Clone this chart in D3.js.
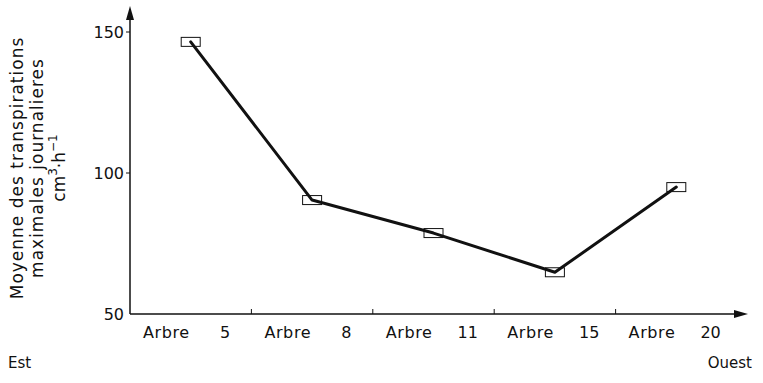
<!DOCTYPE html>
<html>
<head>
<meta charset="utf-8">
<script src="https://cdn.jsdelivr.net/npm/d3@7"></script>
<style>
  body { margin: 0; background: #fff; }
  svg text { font-family: "DejaVu Sans", sans-serif; fill: #111; }
</style>
</head>
<body>
<svg width="763" height="383"></svg>
<script>
// arbres, d'est en ouest
var trees = ['5', '8', '11', '15', '20']
var transp = [146.5, 90.4, 78.7, 64.8, 95.0]
var yTicks = [50, 100, 150]
var yTitle = ['Moyenne des transpirations', 'maximales journalieres']

var svg = d3.select('svg')

var x = d3.scaleBand().domain(trees).range([130, 737]).padding(0)
  , y = d3.scaleLinear().domain([50, 150]).range([314, 32])

var x0 = x.range()[0], y0 = y(50)

// axes
svg.append('line')
  .attr('x1', x0).attr('x2', x0).attr('y1', y0).attr('y2', 14)
  .attr('stroke', '#111').attr('stroke-width', 1.5)
svg.append('path')
  .attr('d', 'M' + x0 + ',6L' + (x0 - 4) + ',20L' + (x0 + 4) + ',20Z')
  .attr('fill', '#111')

svg.append('line')
  .attr('x1', x0).attr('x2', 738).attr('y1', y0).attr('y2', y0)
  .attr('stroke', '#111').attr('stroke-width', 1.5)
svg.append('path')
  .attr('d', 'M748,' + y0 + 'L734,' + (y0 - 4) + 'L734,' + (y0 + 4) + 'Z')
  .attr('fill', '#111')

// y ticks
svg.selectAll('.yt').data(yTicks.slice(1)).enter().append('line')
  .attr('x1', x0 - 4).attr('x2', x0)
  .attr('y1', function (d) { return y(d) }).attr('y2', function (d) { return y(d) })
  .attr('stroke', '#111').attr('stroke-width', 1)

svg.selectAll('.yl').data(yTicks).enter().append('text')
  .attr('x', 124).attr('y', function (d) { return y(d) })
  .attr('dy', '0.36em').attr('text-anchor', 'end')
  .attr('font-size', 16)
  .text(function (d) { return d })

// x ticks between the trees
svg.selectAll('.xt').data(trees.slice(1)).enter().append('line')
  .attr('x1', function (d) { return x(d) }).attr('x2', function (d) { return x(d) })
  .attr('y1', y0 - 5).attr('y2', y0)
  .attr('stroke', '#111').attr('stroke-width', 1)

var lab = svg.selectAll('.xl').data(trees).enter().append('g')
  .attr('transform', function (d) { return 'translate(' + x(d) + ',' + 338 + ')' })
lab.append('text').attr('x', 13).attr('font-size', 16).attr('letter-spacing', 0.6)
  .text('Arbre')
lab.append('text').attr('x', 95).attr('text-anchor', 'middle').attr('font-size', 16)
  .text(function (d) { return d })

svg.append('text').attr('x', 8).attr('y', 368).attr('font-size', 15).text('Est')
svg.append('text').attr('x', 752).attr('y', 368).attr('font-size', 15)
  .attr('text-anchor', 'end').text('Ouest')

// y title
var t = svg.append('g').attr('transform', 'translate(0,168) rotate(-90)')
t.selectAll('.tt').data(yTitle).enter().append('text')
  .attr('x', 0).attr('y', function (d, i) { return 23 + i * 20 })
  .attr('text-anchor', 'middle').attr('font-size', 17).attr('letter-spacing', 1)
  .text(function (d) { return d })
var u = t.append('text').attr('x', 0).attr('y', 65)
  .attr('text-anchor', 'middle').attr('font-size', 17)
u.append('tspan').text('cm')
u.append('tspan').attr('dy', -8).attr('font-size', 12).text('3')
u.append('tspan').attr('dy', 8).text('·h')
u.append('tspan').attr('dy', -8).attr('font-size', 12).text('−1')

// courbe
var pts = trees.map(function (d, i) { return [x(d) + x.bandwidth() / 2, y(transp[i])] })

svg.selectAll('.mk').data(pts).enter().append('rect')
  .attr('x', function (d) { return d[0] - 9.5 }).attr('y', function (d) { return d[1] - 4.5 })
  .attr('width', 19).attr('height', 9)
  .attr('fill', '#fff').attr('stroke', '#111').attr('stroke-width', 1)

svg.append('path')
  .attr('d', d3.line()(pts))
  .attr('fill', 'none').attr('stroke', '#111').attr('stroke-width', 3)
  .attr('stroke-linejoin', 'round').attr('stroke-linecap', 'round')
</script>
</body>
</html>
